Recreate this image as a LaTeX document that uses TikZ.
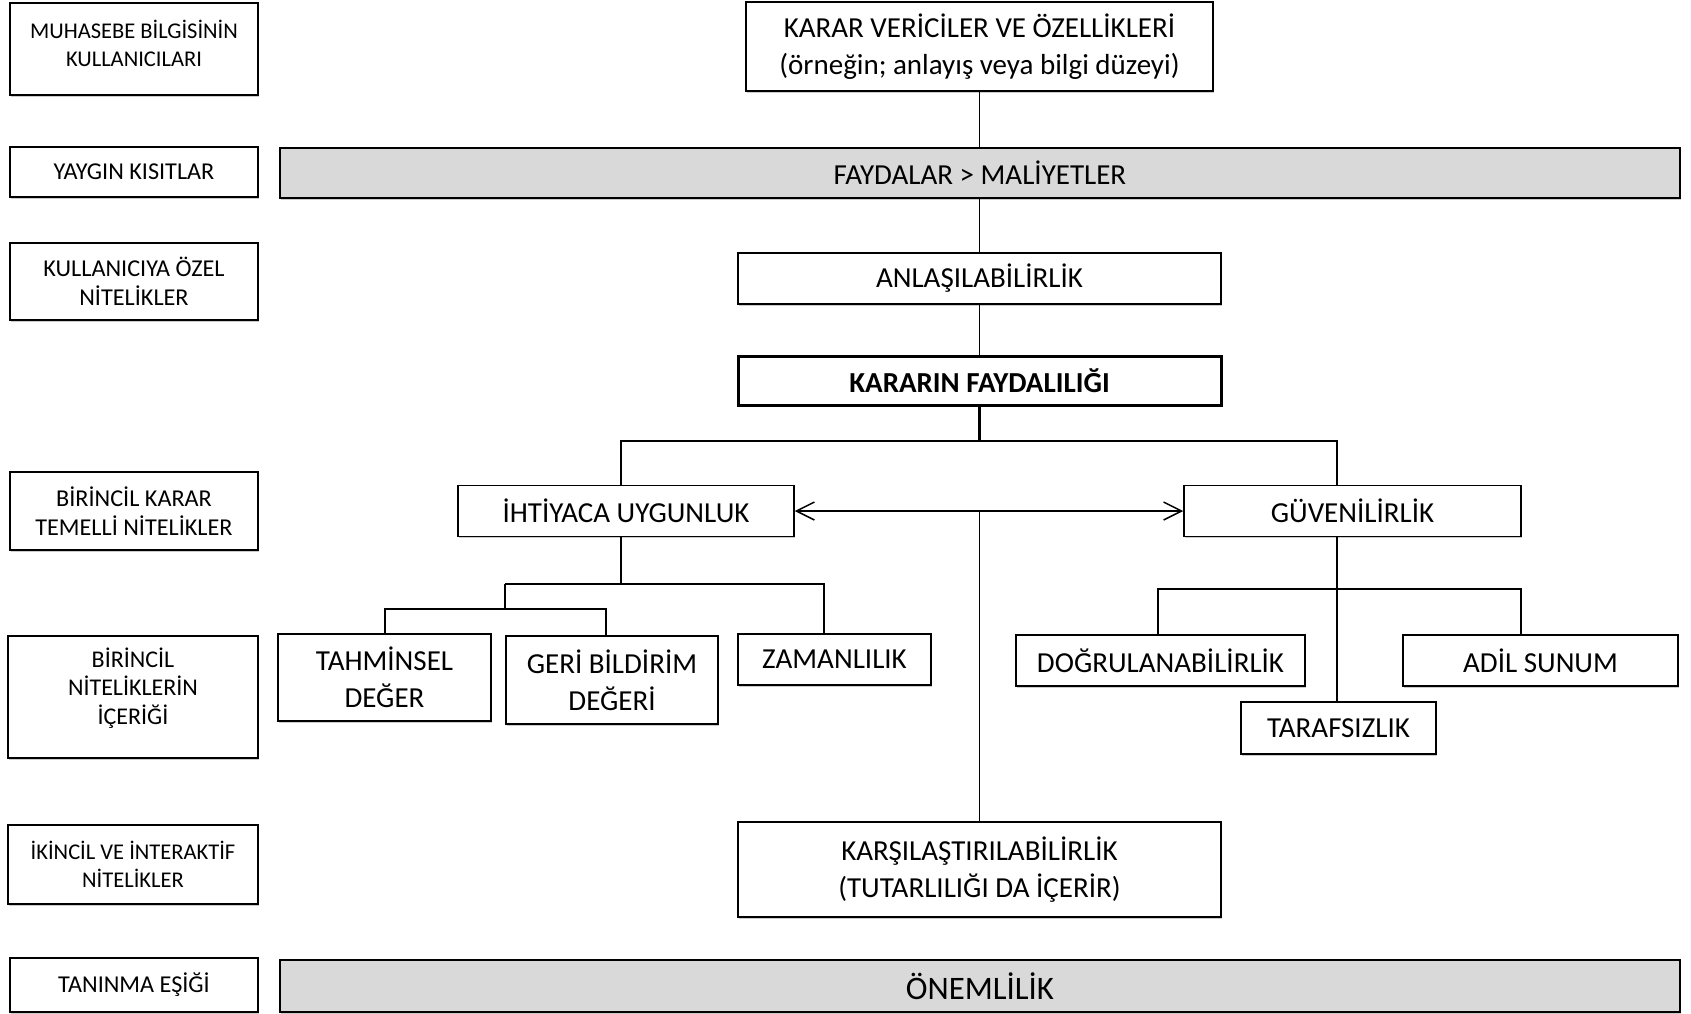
\documentclass[tikz,border=0pt]{standalone}
\usepackage{fontspec}
\setmainfont{Carlito}
\usetikzlibrary{arrows.meta,shadows}
\definecolor{barfill}{RGB}{217,217,217}
\begin{document}
\begin{tikzpicture}[x=0.5pt,y=-0.5pt,
  box/.style={draw=black, line width=0.75pt, fill=white, align=center, inner sep=0pt,
    font=\fontsize{14.5}{18.5}\selectfont,
    drop shadow={shadow xshift=0.3pt, shadow yshift=-0.8pt, fill=black!40}},
  lbl/.style={box, font=\fontsize{12.1}{14.3}\selectfont},
  lblsmall/.style={box, font=\fontsize{11.25}{14}\selectfont},
  lbltext/.style={align=center, inner sep=0pt, font=\fontsize{11.25}{14}\selectfont},
  bar/.style={box, fill=barfill},
  conn/.style={line width=0.75pt},
  tree/.style={line width=1.1pt},
  tip/.tip={Straight Barb[length=9pt,width=9pt]},
]
\useasboundingbox (0,0) rectangle (1691,1013);

% left column labels
\node[lbl, minimum width=124pt, minimum height=46pt] (muh) at (134,49) {};
\node[lbltext] (muhT) at (134,43) {MUHASEBE BİLGİSİNİN\\KULLANICILARI};
\node[lbl, minimum width=124pt, minimum height=25pt] (yay) at (134,172) {YAYGIN KISITLAR};
\node[lbl, minimum width=124pt, minimum height=38.5pt] (kul) at (134,281.5) {KULLANICIYA ÖZEL\\NİTELİKLER};
\node[lbl, minimum width=124pt, minimum height=39pt] (bkt) at (134,511) {BİRİNCİL KARAR\\TEMELLİ NİTELİKLER};
\node[lbl, minimum width=125pt, minimum height=61pt] (bni) at (133,697) {};
\node[lbltext, font=\fontsize{12}{14.3}\selectfont] (bniT) at (133,688) {BİRİNCİL\\NİTELİKLERİN\\İÇERİĞİ};
\node[lblsmall, minimum width=125pt, minimum height=39.5pt] (iki) at (133,864.5) {İKİNCİL VE İNTERAKTİF\\NİTELİKLER};
\node[lbl, minimum width=124pt, minimum height=27pt] (tan) at (134,985) {TANINMA EŞİĞİ};

% main boxes
\node[box, minimum width=233.5pt, minimum height=44.5pt] (kv) at (979.5,46.5) {KARAR VERİCİLER VE ÖZELLİKLERİ\\(örneğin; anlayış veya bilgi düzeyi)};
\node[bar, minimum width=700pt, minimum height=25pt] (fay) at (980,173) {FAYDALAR > MALİYETLER};
\node[box, minimum width=241.5pt, minimum height=25.5pt] (anl) at (979.5,278.5) {ANLAŞILABİLİRLİK};
\node[box, line width=1.5pt, minimum width=241.5pt, minimum height=24.5pt, font=\fontsize{14.5}{18}\selectfont\bfseries] (kfd) at (979.5,380.5) {KARARIN FAYDALILIĞI};
\node[box, minimum width=168pt, minimum height=25.5pt] (iht) at (626,511) {İHTİYACA UYGUNLUK};
\node[box, minimum width=168.5pt, minimum height=25.5pt] (guv) at (1352.5,511) {GÜVENİLİRLİK};
\node[box, minimum width=106.5pt, minimum height=43.5pt] (tah) at (384.5,677.5) {TAHMİNSEL\\DEĞER};
\node[box, minimum width=106pt, minimum height=44pt] (ger) at (612,680) {GERİ BİLDİRİM\\DEĞERİ};
\node[box, minimum width=96.5pt, minimum height=25.5pt] (zam) at (834.5,659.5) {ZAMANLILIK};
\node[box, minimum width=144.5pt, minimum height=25.5pt] (dog) at (1160.5,660.5) {DOĞRULANABİLİRLİK};
\node[box, minimum width=137.5pt, minimum height=25.5pt] (adi) at (1540.5,660.5) {ADİL SUNUM};
\node[box, minimum width=97.5pt, minimum height=26pt] (tar) at (1338.5,728) {TARAFSIZLIK};
\node[box, minimum width=241.5pt, minimum height=47.5pt] (kar) at (979.5,869.5) {KARŞILAŞTIRILABİLİRLİK\\(TUTARLILIĞI DA İÇERİR)};
\node[bar, minimum width=700pt, minimum height=26pt, font=\fontsize{16.4}{20}\selectfont] (one) at (980,986) {ÖNEMLİLİK};

% vertical spine
\draw[conn] (kv.south) -- (kv.south |- fay.north);
\draw[conn] (anl.north |- fay.south) -- (anl.north);
\draw[conn] (anl.south) -- (kfd.north);

% bracket under KARARIN FAYDALILIĞI
\coordinate (bj) at (979.5,441);
\coordinate (bl) at (621,441);
\coordinate (br) at (1337,441);
\draw[tree] (kfd.south) -- (bj);
\draw[tree] (iht.north -| bl) -- (bl) -- (br) -- (br |- guv.north);

% double arrow and line to comparability
\draw[conn, tip-tip] (iht.east) -- (guv.west);
\draw[conn] (kar.north |- iht.east) -- (kar.north);

% relevance children
\coordinate (ij) at (621,584);
\coordinate (ij1) at (505,584);
\coordinate (ij2) at (824,584);
\coordinate (tl) at (385,609);
\coordinate (tj) at (505,609);
\coordinate (tr) at (606,609);
\draw[tree] (iht.south -| ij) -- (ij);
\draw[tree] (ij1) -- (ij2) -- (ij2 |- zam.north);
\draw[tree] (ij1) -- (tj);
\draw[tree] (tah.north -| tl) -- (tl) -- (tr) -- (tr |- ger.north);

% reliability children
\coordinate (gj) at (1337,589);
\coordinate (gl) at (1158,589);
\coordinate (gr) at (1521,589);
\draw[tree] (guv.south -| gj) -- (gj |- tar.north);
\draw[tree] (dog.north -| gl) -- (gl) -- (gr) -- (gr |- adi.north);
\end{tikzpicture}
\end{document}
